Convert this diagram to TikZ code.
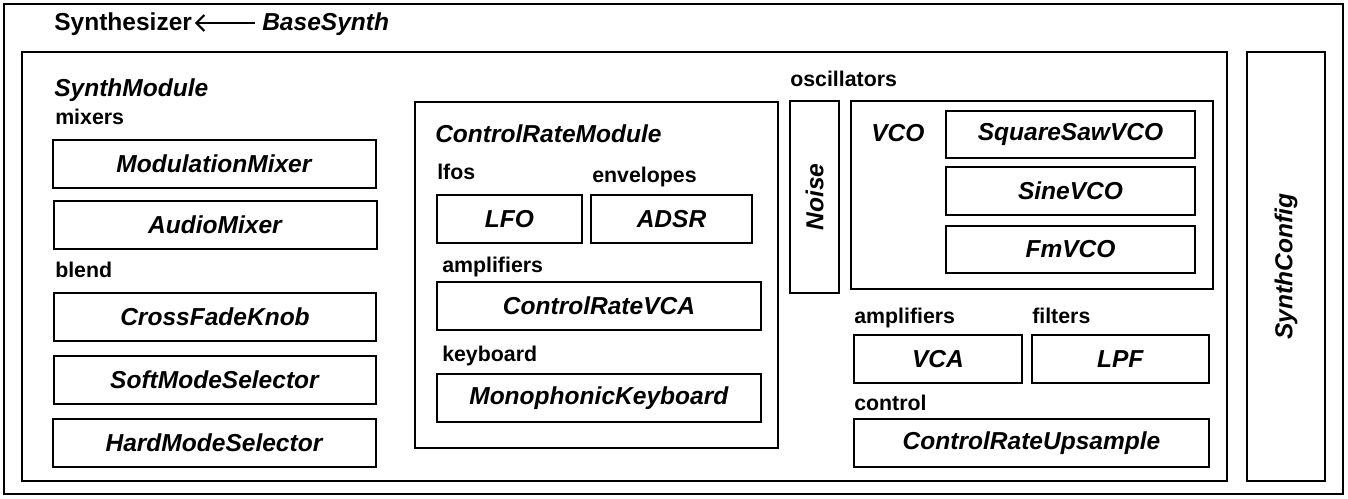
\documentclass[tikz,border=0pt]{standalone}
\usepackage{fontspec}
\setmainfont{Liberation Sans}
\usetikzlibrary{fit,arrows.meta}

\begin{document}
\begin{tikzpicture}[x=0.75pt, y=-0.75pt,
    box/.style={draw, line width=1.5pt, inner sep=0pt},
    txt/.style={inner sep=0pt, anchor=base west},
    cat/.style={txt, font=\fontsize{16}{19}\selectfont\bfseries},
    every node/.style={font=\fontsize{18.4}{22}\selectfont\bfseries}]
    \useasboundingbox (0,0) rectangle (1348,499);
    % frames
    \node[box, fit={(4,4) (1343,494)}] (outer) {};
    \node[box, fit={(22,52) (1227,481)}] (synthmod) {};
    \node[box, fit={(1247,52) (1325,481)}] (config) {};
    \node[rotate=90] at (config) {\textit{SynthConfig}};
    % title
    \node[txt] (synth) at (54,31) {Synthesizer};
    \node[txt] (base) at (262,31) {\textit{BaseSynth}};
    \draw[{Straight Barb[length=6pt,width=12pt]}-, line width=1.6pt] ([xshift=2pt,yshift=6pt]synth.base east) -- ([xshift=-5pt,yshift=6pt]base.base west);
    % left column
    \node[txt] (modtitle) at (54,97) {\textit{SynthModule}};
    \node[cat] (mixers) at (55,125) {mixers};
    \node[box, fit={(53,140) (376,188)}] (modmix) {};
    \node at (modmix) {\textit{ModulationMixer}};
    \node[box, fit={(54,201) (377,249)}] (audiomix) {};
    \node at (audiomix) {\textit{AudioMixer}};
    \node[cat] (blend) at (55,277) {blend};
    \node[box, fit={(54,293) (376,341)}] (xfade) {};
    \node at (xfade) {\textit{CrossFadeKnob}};
    \node[box, fit={(54,356) (376,404)}] (softsel) {};
    \node at (softsel) {\textit{SoftModeSelector}};
    \node[box, fit={(53,419) (376,467)}] (hardsel) {};
    \node at (hardsel) {\textit{HardModeSelector}};
    % control rate module
    \node[box, fit={(415,102) (778,448)}] (crm) {};
    \node[txt] (crmtitle) at (435,143) {\textit{ControlRateModule}};
    \node[cat] (lfos) at (437,180) {lfos};
    \node[cat] (envs) at (592,182) {envelopes};
    \node[box, fit={(437,195) (582,243)}] (lfo) {};
    \node at (lfo) {\textit{LFO}};
    \node[box, fit={(591,195) (752,243)}] (adsr) {};
    \node at (adsr) {\textit{ADSR}};
    \node[cat] (cramps) at (442,272) {amplifiers};
    \node[box, fit={(437,282) (761,330)}] (crvca) {};
    \node at (crvca) {\textit{ControlRateVCA}};
    \node[cat] (keyb) at (442,361) {keyboard};
    \node[box, fit={(437,374) (761,422)}] (mono) {};
    \node at (mono) {\textit{MonophonicKeyboard}};
    % oscillators
    \node[cat] (oscs) at (790,87) {oscillators};
    \node[box, fit={(790,101) (839,293)}] (noise) {};
    \node[rotate=90] at (noise) {\textit{Noise}};
    \node[box, fit={(851,101) (1213,289)}] (vco) {};
    \node[txt] (vcotitle) at (871,142) {\textit{VCO}};
    \node[box, fit={(946,111) (1195,158)}] (sqsaw) {};
    \node at (sqsaw) {\textit{SquareSawVCO}};
    \node[box, fit={(946,167) (1195,215)}] (sine) {};
    \node at (sine) {\textit{SineVCO}};
    \node[box, fit={(946,226) (1195,273)}] (fm) {};
    \node at (fm) {\textit{FmVCO}};
    % amplifiers, filters, control
    \node[cat] (amps) at (854,323) {amplifiers};
    \node[cat] (filts) at (1032,323) {filters};
    \node[box, fit={(854,335) (1022,383)}] (vca) {};
    \node at (vca) {\textit{VCA}};
    \node[box, fit={(1032,335) (1209,383)}] (lpf) {};
    \node at (lpf) {\textit{LPF}};
    \node[cat] (ctrl) at (854,410) {control};
    \node[box, fit={(854,419) (1209,467)}] (upsample) {};
    \node at (upsample) {\textit{ControlRateUpsample}};
\end{tikzpicture}
\end{document}
